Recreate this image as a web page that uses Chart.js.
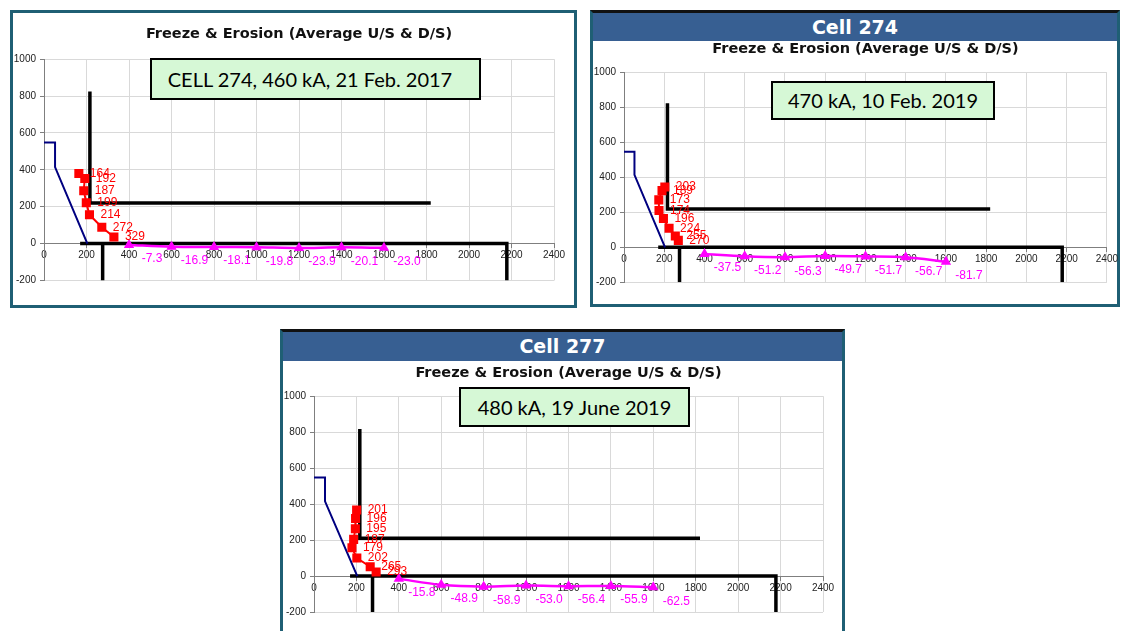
<!DOCTYPE html>
<html>
<head>
<meta charset="utf-8">
<script src="https://cdn.jsdelivr.net/npm/chart.js@4.4.0/dist/chart.umd.min.js"></script>
<style>
  html, body { margin: 0; padding: 0; background: #fff; overflow: hidden; }
  body { width: 1121px; height: 631px; position: relative; }
  .panel { position: absolute; border: 3px solid #1f5f74; background: #fff; box-sizing: border-box; }
  .head { position: absolute; left: 0; right: 0; top: 0; background: #375f92; color: #fff;
          font: bold 19px "DejaVu Sans", sans-serif; text-align: center; }
  .panel canvas { position: absolute; left: 0; }
  .note { position: absolute; background: #d6f8d6; border: 2px solid #000; box-sizing: border-box;
          font-family: Lato, sans-serif; font-size: 20px; color: #000; text-align: center; }
</style>
</head>
<body>

<div class="panel" style="left:10px; top:10px; width:567px; height:298px;">
  <canvas id="cellA" width="561" height="292" style="top:0"></canvas>
</div>

<div class="panel" style="left:590px; top:10px; width:530px; height:297px; border-top-color:#111;">
  <div class="head" style="height:28px; line-height:28px;">Cell 274</div>
  <canvas id="cellB" width="527" height="263" style="top:28px"></canvas>
</div>

<div class="panel" style="left:280px; top:329px; width:565px; height:320px; border-top-color:#111;">
  <div class="head" style="height:29px; line-height:29px;">Cell 277</div>
  <canvas id="cellC" width="559" height="270" style="top:29px"></canvas>
</div>

<div class="note" style="left:150px; top:58px; width:331px; height:42px; line-height:38px; padding-right:11px;">CELL 274, 460 kA, 21 Feb. 2017</div>
<div class="note" style="left:771px; top:81px; width:224px; height:39px; line-height:35px;">470 kA, 10 Feb. 2019</div>
<div class="note" style="left:459px; top:387px; width:231px; height:40px; line-height:36px;">480 kA, 19 June 2019</div>

<script>
// shared outline shapes (same drawing in every cell)
const blueX = [0, 52, 52, 204];
const blueY = [548, 548, 415, 0];
const floorX = [170, 2178, 2178];
const floorY = [0, 0, -200];
const postX = [276, 276];
const postY = [0, -200];
const wallX = [216, 216, 1820];

// magenta series, same x for all cells
const erosionX = [400, 600, 800, 1000, 1200, 1400, 1600];

// cell 274, 21 Feb 2017
const wallA = [825, 220, 220];
const freezeAx = [164, 192, 187, 199, 214, 272, 329];
const freezeAy = [380, 353, 287, 222, 157, 89, 36];
const erosionA = [-7.3, -16.9, -18.1, -19.8, -23.9, -20.1, -23.0];

// cell 274, 10 Feb 2019
const wallB = [825, 220, 220];
const freezeBx = [203, 189, 173, 174, 196, 224, 255, 270];
const freezeBy = [346, 325, 272, 211, 165, 109, 65, 40];
const erosionB = [-37.5, -51.2, -56.3, -49.7, -51.7, -56.7, -81.7];

// cell 277, 19 June 2019
const wallC = [818, 210, 210];
const freezeCx = [201, 196, 195, 187, 179, 202, 265, 293];
const freezeCy = [367, 320, 263, 204, 157, 100, 52, 22];
const erosionC = [-15.8, -48.9, -58.9, -53.0, -56.4, -55.9, -62.5];

const chartTitle = 'Freeze & Erosion (Average U/S & D/S)';

function pts(xs, ys) {
    return xs.map((x, i) => ({ x: x, y: ys[i] }));
}

// writes the value next to each point of a dataset that has pointText
const pointText = {
    id: 'pointText',
    afterDatasetsDraw(chart) {
        const ctx = chart.ctx;
        chart.data.datasets.forEach((ds, i) => {
            if (!ds.pointText) return;
            const meta = chart.getDatasetMeta(i);
            ctx.save();
            ctx.font = '12px "Liberation Sans", Arial, sans-serif';
            ctx.fillStyle = ds.borderColor;
            ctx.textBaseline = 'middle';
            ctx.textAlign = ds.textAlign;
            meta.data.forEach((pt, j) => {
                ctx.fillText(ds.pointText[j], pt.x + ds.textDx, pt.y + ds.textDy);
            });
            ctx.restore();
        });
    }
};

function drawCell(id, fx, fy, ey, wallY, pad, titlePad) {
    const tickFont = { family: 'Liberation Sans', size: 10 };
    new Chart(document.getElementById(id), {
        type: 'scatter',
        data: {
            datasets: [
                {
                    data: pts(fx, fy),
                    showLine: true,
                    borderColor: '#ff0000',
                    backgroundColor: '#ff0000',
                    borderWidth: 2,
                    pointStyle: 'rect',
                    pointRadius: 5,
                    pointText: fx.map(String),
                    textAlign: 'left', textDx: 11, textDy: 0
                },
                {
                    data: pts(erosionX, ey),
                    showLine: true,
                    tension: 0.3,
                    borderColor: '#ff00ff',
                    backgroundColor: '#ff00ff',
                    borderWidth: 2.5,
                    pointStyle: 'triangle',
                    pointRadius: 3.5,
                    pointText: ey.map(v => v.toFixed(1)),
                    textAlign: 'center', textDx: 23, textDy: 14
                },
                {
                    data: pts(blueX, blueY),
                    showLine: true, borderColor: '#000080', borderWidth: 2, pointRadius: 0
                },
                {
                    data: pts(wallX, wallY),
                    showLine: true, borderColor: '#000', borderWidth: 3.5, pointRadius: 0
                },
                {
                    data: pts(floorX, floorY),
                    showLine: true, borderColor: '#000', borderWidth: 3.5, pointRadius: 0
                },
                {
                    data: pts(postX, postY),
                    showLine: true, borderColor: '#000', borderWidth: 3.5, pointRadius: 0
                }
            ]
        },
        options: {
            responsive: false,
            animation: false,
            layout: { padding: pad },
            plugins: {
                legend: { display: false },
                tooltip: { enabled: false },
                title: {
                    display: true,
                    text: chartTitle,
                    fullSize: false,
                    color: '#111',
                    font: { family: 'DejaVu Sans', size: 14.5, weight: 'bold' },
                    padding: titlePad
                }
            },
            scales: {
                x: {
                    type: 'linear',
                    min: 0, max: 2400,
                    position: { y: 0 },
                    ticks: { stepSize: 200, font: tickFont, color: '#222', padding: 2, maxRotation: 0,
                             autoSkip: false, callback: v => String(v) },
                    grid: { color: '#d9d9d9', tickColor: '#7f7f7f', tickLength: 4 },
                    border: { color: '#7f7f7f', width: 1 }
                },
                y: {
                    min: -200, max: 1000,
                    ticks: { stepSize: 200, font: tickFont, color: '#222', padding: 4,
                             callback: v => String(v) },
                    grid: { color: '#d9d9d9', tickColor: '#7f7f7f', tickLength: 4 },
                    border: { color: '#7f7f7f', width: 1 },
                    afterFit: s => { s.width = 31; }
                }
            }
        },
        plugins: [pointText]
    });
}

drawCell('cellA', freezeAx, freezeAy, erosionA, wallA,
    { left: 0, right: 20, top: 0, bottom: 24.5 }, { top: 12.4, bottom: 16.4 });
drawCell('cellB', freezeBx, freezeBy, erosionB, wallB,
    { left: 0, right: 12, top: 0, bottom: 21.7 }, { top: 0, bottom: 14.3 });
drawCell('cellC', freezeCx, freezeCy, erosionC, wallC,
    { left: 0, right: 19, top: 0, bottom: 19 }, { top: 3.1, bottom: 14.7 });
</script>
</body>
</html>
